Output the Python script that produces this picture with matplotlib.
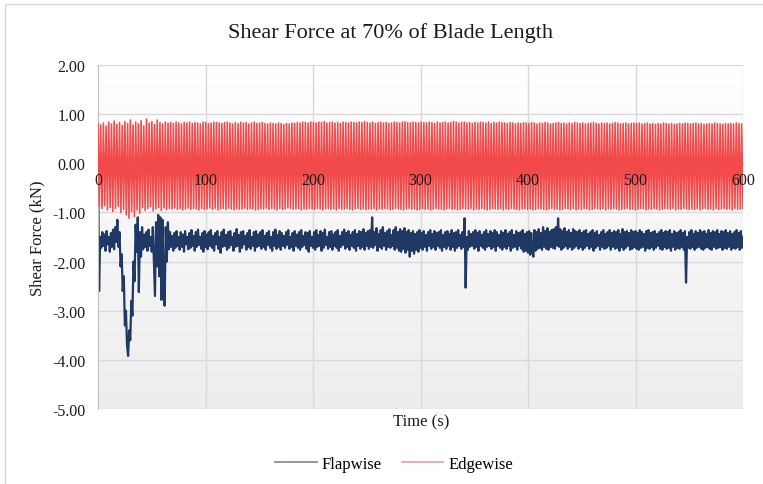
import numpy as np
import matplotlib.pyplot as plt
from matplotlib.lines import Line2D
from matplotlib.patches import Rectangle
from matplotlib.colors import LinearSegmentedColormap

plt.rcParams['font.family'] = ['Liberation Serif', 'DejaVu Serif']

# edgewise shear force, peaks and troughs of each cycle (x0.01 kN)
edge_hi = [
    80, 78, 82, 76, 84, 80, 86, 79, 83, 77, 85, 81, 88, 78, 84, 80, 87, 76, 90, 82,
    85, 79, 88, 83, 80, 84, 82, 83, 81, 84, 82, 80, 83, 82, 84, 81, 83, 82, 80, 84,
    83, 81, 82, 84, 83, 82, 81, 83, 84, 82, 80, 83, 81, 84, 82, 83, 80, 82, 84, 81,
    82, 83, 81, 80, 82, 81, 80, 82, 81, 79, 81, 80, 82, 81, 83, 82, 84, 83, 82, 84,
    83, 82, 84, 83, 85, 82, 83, 84, 82, 83, 81, 84, 83, 82, 84, 83, 82, 84, 83, 85,
    83, 82, 84, 81, 83, 84, 82, 83, 81, 82, 84, 83, 82, 84, 85, 83, 82, 84, 83, 82,
    84, 83, 82, 84, 83, 81, 84, 82, 83, 84, 82, 83, 85, 84, 82, 83, 84, 82, 83, 81,
    83, 82, 84, 83, 82, 84, 81, 83, 82, 84, 83, 82, 81, 83, 82, 80, 82, 81, 83, 82,
    81, 83, 82, 80, 82, 81, 83, 82, 80, 81, 82, 83, 81, 82, 80, 82, 81, 83, 82, 81,
    82, 80, 81, 82, 83, 81, 80, 82, 81, 82, 80, 81, 83, 82, 80, 81, 82, 80, 81, 82,
    81, 82, 80, 81, 82, 80, 81, 79, 81, 80, 82, 81, 80, 81, 79, 80, 81, 80, 82, 81,
    80, 81, 82, 80, 81, 79, 80, 81, 80, 82, 81, 80, 79, 81, 80, 81, 80, 82, 81, 80,
]
edge_lo = [
    -88, -92, -86, -95, -90, -98, -92, -88, -100, -94, -105, -112, -98, -108, -95, -102, -90, -96, -92, -88,
    -97, -93, -90, -96, -91, -94, -92, -93, -91, -94, -92, -95, -93, -91, -94, -92, -93, -95, -92, -94,
    -93, -91, -94, -92, -95, -93, -92, -94, -91, -93, -95, -92, -94, -93, -91, -94, -92, -93, -95, -94,
    -92, -93, -91, -94, -92, -93, -95, -92, -94, -93, -91, -92, -94, -93, -92, -95, -93, -94, -92, -93,
    -94, -92, -93, -95, -93, -92, -94, -93, -95, -92, -94, -93, -92, -94, -95, -93, -92, -94, -93, -95,
    -93, -94, -92, -95, -93, -94, -92, -93, -95, -94, -92, -93, -94, -95, -93, -92, -94, -93, -95, -94,
    -92, -94, -93, -95, -94, -92, -93, -94, -95, -93, -92, -94, -93, -95, -94, -92, -93, -94, -92, -95,
    -93, -94, -92, -93, -95, -94, -92, -93, -94, -92, -95, -93, -94, -92, -93, -94, -95, -93, -92, -94,
    -93, -95, -94, -92, -93, -94, -95, -93, -92, -94, -93, -95, -94, -92, -93, -94, -92, -95, -93, -94,
    -92, -93, -95, -94, -92, -93, -94, -92, -95, -93, -94, -92, -93, -95, -94, -93, -92, -94, -93, -95,
    -94, -92, -93, -95, -93, -94, -92, -93, -95, -94, -92, -93, -94, -92, -95, -93, -94, -92, -93, -94,
    -93, -94, -92, -95, -93, -92, -94, -93, -95, -92, -94, -93, -92, -94, -93, -95, -92, -94, -93, -92,
]

# flapwise shear force, one reading per second (x0.01 kN)
flap = [
    20, -260, -150, -172, -140, -168, -145, -178, -138, -165, -150, -180, -142, -170, -135, -175, -130, -160, -115, -170, -140, -210, -185, -260, -230,
    -330, -300, -370, -392, -340, -360, -280, -310, -200, -240, -125, -180, -110, -262, -140, -190, -130, -175, -145, -170, -140, -178, -135, -168, -150,
    -180, -130, -200, -270, -120, -210, -105, -230, -110, -278, -115, -250, -290, -130, -200, -120, -175, -140, -170, -148, -178, -142, -172, -138, -168,
    -150, -176, -140, -170, -145, -180, -138, -165, -150, -175, -142, -172, -136, -168, -148, -178, -140, -170, -135, -166, -150, -174, -142, -180, -138,
    -170, -145, -175, -140, -168, -136, -172, -148, -178, -142, -165, -138, -174, -150, -182, -140, -170, -135, -168, -146, -176, -140, -172, -138, -166,
    -150, -178, -142, -170, -134, -168, -146, -180, -140, -172, -138, -165, -148, -176, -142, -170, -136, -174, -150, -168, -140, -178, -138, -170, -145,
    -168, -140, -174, -136, -170, -148, -176, -142, -166, -138, -172, -150, -178, -140, -168, -135, -174, -146, -170, -138, -176, -142, -168, -148, -172,
    -140, -166, -136, -174, -150, -170, -142, -178, -138, -168, -145, -172, -140, -176, -136, -170, -148, -166, -140, -174, -142, -180, -138, -168, -150,
    -172, -140, -176, -136, -170, -146, -168, -138, -178, -142, -172, -135, -166, -150, -174, -140, -170, -138, -176, -145, -168, -140, -172, -136, -178,
    -148, -170, -140, -166, -135, -174, -142, -170, -138, -176, -146, -168, -140, -172, -136, -178, -144, -168, -138, -174, -140, -170, -134, -176, -142,
    -168, -138, -174, -136, -170, -110, -172, -140, -166, -132, -178, -144, -170, -136, -174, -130, -168, -142, -176, -138, -170, -134, -172, -146, -168,
    -136, -176, -130, -172, -140, -178, -134, -180, -138, -174, -132, -182, -140, -176, -136, -190, -142, -178, -138, -184, -144, -176, -140, -180, -136,
    -172, -142, -176, -138, -170, -146, -178, -140, -168, -136, -174, -144, -170, -138, -176, -142, -168, -140, -172, -136, -178, -146, -170, -140, -174,
    -138, -168, -144, -176, -136, -170, -142, -178, -140, -172, -136, -168, -146, -174, -140, -170, -112, -253, -150, -176, -138, -170, -144, -168, -140,
    -174, -136, -170, -142, -178, -138, -168, -146, -172, -140, -176, -136, -170, -144, -168, -138, -174, -142, -170, -136, -178, -140, -168, -146, -172,
    -138, -176, -142, -170, -136, -174, -144, -168, -140, -178, -136, -172, -146, -170, -138, -176, -142, -168, -140, -174, -136, -180, -144, -178, -140,
    -182, -138, -186, -142, -180, -190, -136, -178, -140, -174, -134, -172, -142, -176, -130, -170, -138, -174, -132, -176, -140, -170, -136, -172, -134,
    -174, -130, -168, -112, -170, -134, -176, -138, -172, -132, -168, -140, -174, -136, -170, -142, -176, -134, -172, -138, -168, -140, -174, -136, -170,
    -142, -176, -138, -172, -136, -168, -144, -174, -140, -170, -136, -178, -142, -172, -138, -168, -146, -176, -140, -170, -136, -174, -144, -172, -140,
    -168, -136, -176, -142, -170, -138, -174, -140, -172, -136, -178, -144, -170, -134, -176, -140, -172, -138, -168, -142, -176, -136, -174, -140, -170,
    -138, -174, -142, -176, -136, -172, -140, -170, -144, -178, -138, -172, -136, -174, -142, -170, -140, -176, -138, -172, -144, -168, -140, -174, -136,
    -176, -142, -170, -138, -174, -140, -172, -136, -178, -144, -170, -138, -176, -142, -172, -140, -174, -136, -170, -142, -176, -138, -243, -150, -172,
    -140, -174, -136, -170, -144, -176, -138, -172, -142, -170, -136, -174, -140, -176, -138, -172, -144, -170, -136, -174, -142, -176, -138, -170, -140,
    -174, -136, -172, -144, -170, -138, -176, -140, -172, -136, -174, -142, -170, -138, -176, -144, -172, -140, -174, -136, -170, -142, -176, -138, -172,
    -150,
]

x_ticks = [0, 100, 200, 300, 400, 500, 600]
y_ticks = [-5, -4, -3, -2, -1, 0, 1, 2]

edge = np.empty(len(edge_hi) + len(edge_lo))
edge[0::2] = edge_hi
edge[1::2] = edge_lo
edge = edge / 100.0
t_edge = np.linspace(0, 600, len(edge))
flap_kn = np.array(flap) / 100.0
t_flap = np.linspace(0, 600, len(flap_kn))

fig = plt.figure(figsize=(7.63, 4.85), dpi=100)
ax = fig.add_axes([98 / 763, 75 / 485, 645 / 763, 344 / 485])

# plot area background: white at top fading to light grey
cmap = LinearSegmentedColormap.from_list('bg', ['#ededed', '#ffffff'])
ax.imshow(np.linspace(0, 1, 256).reshape(-1, 1), extent=[0, 600, -5, 2],
          aspect='auto', origin='lower', cmap=cmap, zorder=0)

for y in y_ticks:
    ax.axhline(y, color='#d9d9d9', lw=1, zorder=0.5)
for x in x_ticks[1:]:
    ax.axvline(x, color='#d9d9d9', lw=1, zorder=0.5)

ax.plot(t_flap, flap_kn, color='#1f3864', lw=1.6, zorder=2)
ax.plot(t_edge, edge, color='#f24a4a', lw=1.15, zorder=3)

ax.set_xlim(0, 600)
ax.set_ylim(-5, 2)
ax.set_xticks(x_ticks)
ax.set_yticks(y_ticks)
ax.set_yticklabels([f'{v:.2f}' for v in y_ticks])
ax.tick_params(length=0, labelsize=11.5, colors='#1a1a1a')
ax.tick_params(axis='y', pad=9)
ax.tick_params(axis='x', pad=6)
ax.xaxis.set_zorder(5)

for s in ['top', 'right']:
    ax.spines[s].set_visible(False)
ax.spines['bottom'].set_position(('data', 0))
ax.spines['bottom'].set_color('#bfbfbf')
ax.spines['left'].set_color('#bfbfbf')

fig.text(390 / 763, 1 - 33 / 485, 'Shear Force at 70% of Blade Length',
         ha='center', va='center', fontsize=16, color='#1a1a1a')
fig.text(37 / 763, 1 - 238 / 485, 'Shear Force (kN)', rotation=90,
         ha='center', va='center', fontsize=12, color='#1a1a1a')
fig.text(421 / 763, 1 - 422 / 485, 'Time (s)', ha='center', va='center',
         fontsize=12, color='#1a1a1a')

handles = [Line2D([], [], color='#8c8f96', lw=1.3),
           Line2D([], [], color='#e6a5ac', lw=1.3)]
fig.legend(handles, ['Flapwise', 'Edgewise'], loc='center',
           bbox_to_anchor=(394 / 763, 20 / 485), ncol=2, frameon=False,
           fontsize=12, handlelength=2.5, handletextpad=0.3, columnspacing=1.2)

fig.patches.append(Rectangle((4.5 / 763, -0.1), 1.2, 480 / 485 + 0.1,
                             transform=fig.transFigure, fill=False,
                             edgecolor='#d9d9d9', lw=1))

fig.savefig('out.png', dpi=100)
